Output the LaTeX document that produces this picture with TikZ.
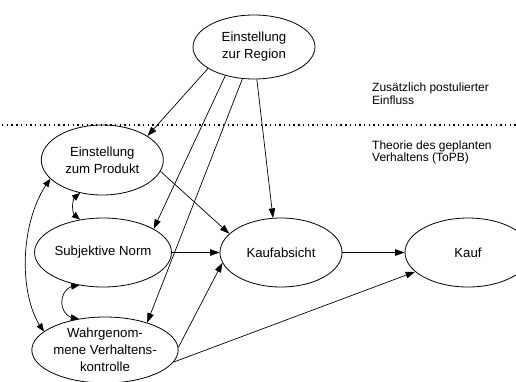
\documentclass[tikz,border=0pt]{standalone}
\usepackage{fontspec}
\setmainfont{Liberation Sans}
\usetikzlibrary{shapes.geometric,arrows.meta,bending}
\begin{document}
\begin{tikzpicture}[x=1pt,y=-1pt,
  ell/.style={ellipse,draw,line width=0.8pt,inner sep=0pt,align=center,
    font=\fontsize{13.2}{17}\selectfont},
  lbl/.style={inner sep=0pt,align=left,anchor=west,font=\fontsize{12}{12.5}\selectfont},
  arr/.style={line width=0.7pt,-{Triangle[length=9.5pt,width=6.5pt]}},
  darr/.style={line width=0.7pt,{Triangle[length=8pt,width=6.5pt,flex]}-{Triangle[length=8pt,width=6.5pt,flex]}},
  dotline/.style={line width=1.4pt,dash pattern=on 1.4pt off 3.3pt}]
\useasboundingbox (0,0) rectangle (516,381);
\node[ell,minimum width=122pt,minimum height=64pt] (reg) at (254,47) {Einstellung\\zur Region};
\node[ell,minimum width=122pt,minimum height=70pt] (prod) at (102.3,160) {Einstellung\\zum Produkt};
\node[ell,minimum width=120pt,minimum height=69pt] (sn) at (103,252.5) {Subjektive Norm};
\node[ell,minimum width=124pt,minimum height=66pt] (wv) at (105,350) {Wahrgenom-\\mene Verhaltens-\\kontrolle};
\node[ell,minimum width=122pt,minimum height=69pt] (ka) at (281,252.5) {Kaufabsicht};
\node[ell,minimum width=126pt,minimum height=69pt] (kauf) at (468,252.5) {Kauf};
\node[lbl] (zus) at (372,93.5) {Zusätzlich postulierter\\Einfluss};
\node[lbl] (topb) at (372,152.5) {Theorie des geplanten\\Verhaltens (ToPB)};
\coordinate (dl) at (2,125);
\coordinate (dr) at (516,125);
\draw[dotline] (dl) -- (dr);
\draw[arr] (reg.205) -- (prod.28);
\draw[arr] (reg.225) -- (sn.25);
\draw[arr] (reg.250) -- (wv.33);
\draw[arr] (reg.275) -- (ka.103);
\draw[arr] (prod.-11.5) -- (ka.160);
\draw[arr] (sn.east) -- (ka.west);
\draw[arr] (wv.2) -- (ka.190);
\draw[arr] (wv.-10) -- (kauf.200);
\draw[arr] (ka.east) -- (kauf.west);
\draw[darr] (prod.236) .. controls (70,193) and (70,220) .. (sn.125);
\draw[darr] (sn.234) .. controls (56,284) and (56,320) .. (wv.130);
\draw[darr] (prod.200) .. controls (18,220) and (18,300) .. (wv.163);
\end{tikzpicture}
\end{document}
